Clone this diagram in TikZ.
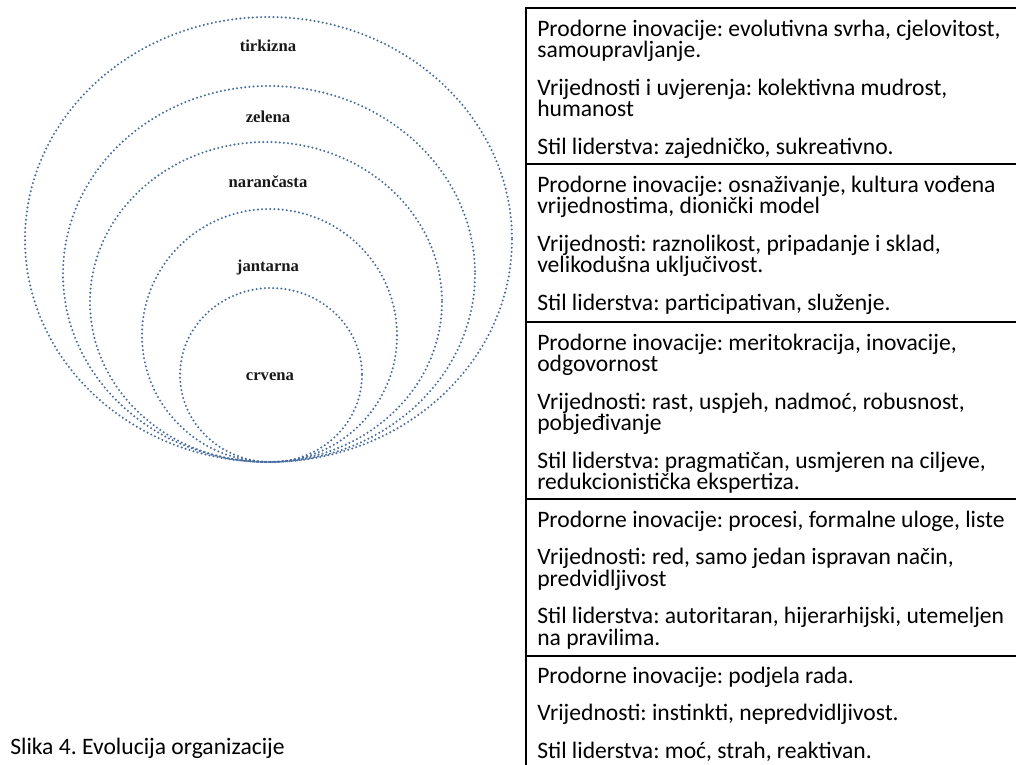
\documentclass[tikz,border=0pt]{standalone}
\usepackage{fontspec}
\setmainfont{Carlito}
\newfontfamily\ringfont{Liberation Serif}
\usetikzlibrary{positioning}
\definecolor{dotblue}{RGB}{72,108,160}
\newcommand\tabfont{\fontsize{17.7}{16.1}\selectfont\lineskiplimit -20pt\frenchspacing\relax}

\begin{document}
\begin{tikzpicture}[
  x=0.75pt, y=-0.75pt,
  ring/.style={draw=dotblue, line width=1.7pt, dash pattern=on 0pt off 3.1pt, line cap=round},
  ringlabel/.style={font=\ringfont\bfseries\fontsize{12.5}{14}\selectfont, text=black!90, inner sep=0pt},
  cell/.style={draw, line width=1.2pt},
  rowtext/.style={anchor=north west, inner sep=0pt, align=left, font=\tabfont}
]
\useasboundingbox (0,0) rectangle (1016,764);

% nested rings, all touching at the bottom
\draw[ring] (268.5,239.5) ellipse [x radius=243.5, y radius=222.5];
\draw[ring] (269,274) ellipse [x radius=206, y radius=188];
\draw[ring] (266,302) ellipse [x radius=176, y radius=160];
\draw[ring] (269.5,335.5) ellipse [x radius=127.5, y radius=126.5];
\draw[ring] (271,375) ellipse [x radius=91, y radius=87];

\node[ringlabel] (tirkizna) at (268,46) {tirkizna};
\node[ringlabel] (zelena) at (268,117) {zelena};
\node[ringlabel] (narancasta) at (268,182) {narančasta};
\node[ringlabel] (jantarna) at (268,267) {jantarna};
\node[ringlabel] (crvena) at (270,377) {crvena};

% table on the right
\draw[cell] (526,8) rectangle (1030,164);
\draw[cell] (526,164) rectangle (1030,322);
\draw[cell] (526,322) rectangle (1030,499);
\draw[cell] (526,499) rectangle (1030,656);
\draw[cell] (526,656) rectangle (1030,780);

\node[rowtext] (tirkiznarow) at (537,19.7) {Prodorne inovacije: evolutivna svrha, cjelovitost,\\
  samoupravljanje.\\[12pt]
  Vrijednosti i uvjerenja: kolektivna mudrost,\\
  humanost\\[12pt]
  Stil liderstva: zajedničko, sukreativno.};
\node[rowtext] (zelenarow) at (537,175.7) {Prodorne inovacije: osnaživanje, kultura vođena\\
  vrijednostima, dionički model\\[12pt]
  Vrijednosti: raznolikost, pripadanje i sklad,\\
  velikodušna uključivost.\\[12pt]
  Stil liderstva: participativan, služenje.};
\node[rowtext] (narancastarow) at (537,333.7) {Prodorne inovacije: meritokracija, inovacije,\\
  odgovornost\\[12pt]
  Vrijednosti: rast, uspjeh, nadmoć, robusnost,\\
  pobjeđivanje\\[12pt]
  Stil liderstva: pragmatičan, usmjeren na ciljeve,\\
  redukcionistička ekspertiza.};
\node[rowtext] (jantarnarow) at (537,510.7) {Prodorne inovacije: procesi, formalne uloge, liste\\[12pt]
  Vrijednosti: red, samo jedan ispravan način,\\
  predvidljivost\\[12pt]
  Stil liderstva: autoritaran, hijerarhijski, utemeljen\\
  na pravilima.};
\node[rowtext] (crvenarow) at (537,666.7) {Prodorne inovacije: podjela rada.\\[12pt]
  Vrijednosti: instinkti, nepredvidljivost.\\[12pt]
  Stil liderstva: moć, strah, reaktivan.};

\node[anchor=base west, inner sep=0pt, font=\tabfont] (caption) at (10,754) {Slika 4. Evolucija organizacije};
\end{tikzpicture}
\end{document}
